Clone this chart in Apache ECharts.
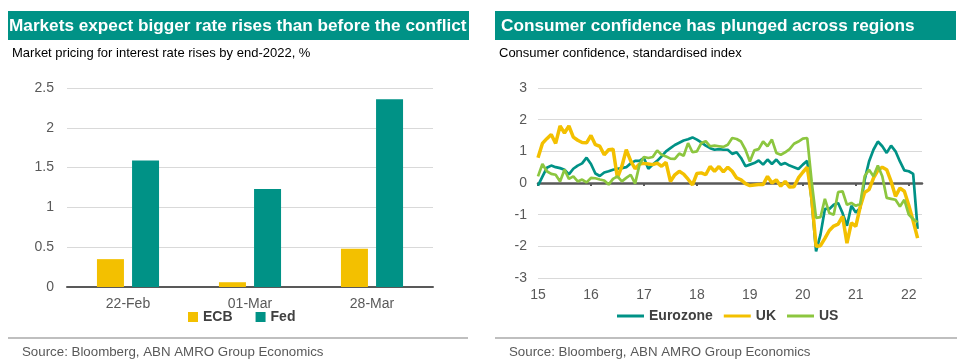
<!DOCTYPE html>
<html>
<head>
<meta charset="utf-8">
<script src="https://cdn.jsdelivr.net/npm/echarts@6/dist/echarts.min.js"></script>
<style>
html,body{margin:0;padding:0;background:#fff;}
#c{width:969px;height:363px;}
</style>
</head>
<body>
<div id="c"></div>
<script>
// ---- Left chart data ----
const barCategories = ['22-Feb', '01-Mar', '28-Mar'];
const ecbValues = [0.35, 0.06, 0.48];
const fedValues = [1.59, 1.23, 2.36];

// ---- Right chart data (monthly, Jan 2015 - Mar 2022) ----
const eurozone = [
  -0.08, 0.2, 0.48, 0.55, 0.5, 0.47, 0.42, 0.27, 0.45, 0.55, 0.62, 0.8,
  0.6, 0.3, 0.22, 0.33, 0.37, 0.42, 0.45, 0.47, 0.5, 0.62, 0.7, 0.7,
  0.79, 0.45, 0.58, 0.7, 0.84, 1.0, 1.1, 1.2, 1.27, 1.34, 1.38, 1.44,
  1.37, 1.28, 1.18, 1.1, 1.05, 1.07, 1.05, 1.05, 0.92, 0.97, 0.79, 0.53,
  0.58, 0.63, 0.71, 0.58, 0.74, 0.6, 0.74, 0.58, 0.63, 0.55, 0.5, 0.44,
  0.58, 0.7, -0.56, -2.16, -1.63, -0.82, -0.82, -0.69, -0.63, -0.95, -1.35, -0.72,
  -0.93, -0.79, 0.1, 0.68, 1.05, 1.31, 1.16, 0.95, 1.18, 1.0, 0.68, 0.4,
  0.37, 0.29, -1.45
];
const uk = [
  0.8, 1.25, 1.4, 1.53, 1.25, 1.8, 1.58, 1.8, 1.45, 1.35, 1.28, 1.27,
  1.5, 1.21, 1.16, 0.89, 1.05, 1.07, 0.16, 0.53, 1.05, 0.7, 0.45, 0.6,
  0.62, 0.6, 0.58, 0.63, 0.53, 0.65, 0.05, 0.26, 0.37, 0.28, 0.12, -0.06,
  0.3, 0.32, 0.26, 0.52, 0.37, 0.52, 0.35, 0.5, 0.37, 0.16, 0.1, -0.02,
  -0.08, -0.06, -0.05, -0.05, 0.21, 0.0, 0.1, -0.1, 0.05, -0.13, -0.12, 0.16,
  0.34, 0.5, -0.45, -2.0, -1.98, -1.75, -1.5, -1.36, -1.3, -1.05, -1.9, -1.26,
  -1.37, -0.75, -0.3, -0.21, 0.15, 0.4, 0.5, 0.42, 0.05, -0.42, -0.16, -0.26,
  -0.7, -1.2, -1.74
];
const us = [
  0.21, 0.6, 0.37, 0.29, 0.26, 0.05, 0.42, 0.13, 0.21, 0.05, 0.11, 0.02,
  0.16, 0.15, 0.11, 0.08, -0.05, 0.13, 0.21, 0.05, 0.16, 0.26, -0.02, 0.58,
  0.82, 0.79, 0.82, 1.03, 0.89, 0.84, 0.77, 0.76, 0.93, 0.86, 1.26, 0.97,
  1.0, 1.26, 1.32, 1.16, 1.18, 1.16, 1.14, 1.21, 1.42, 1.39, 1.31, 1.05,
  0.68, 1.03, 1.07, 1.31, 1.16, 1.37, 0.95, 0.89, 0.97, 1.07, 1.24, 1.31,
  1.4, 1.42, 0.05, -1.1, -1.08, -0.5, -0.95, -1.0, -0.29, -0.26, -0.69, -0.63,
  -0.72, -0.66, 0.21, 0.42, 0.21, 0.55, 0.21, -0.47, -0.5, -0.53, -0.74, -0.53,
  -1.0, -1.14, -1.24
];
// month categories Jan 2015 .. Apr 2022
const months = [];
for (let y = 2015; y <= 2022; y++) {
  for (let m = 1; m <= 12; m++) {
    if (y === 2022 && m > 4) break;
    months.push(y + '-' + String(m).padStart(2, '0'));
  }
}

const FONT = '"Liberation Sans", Arial, Helvetica, sans-serif';
const TEAL = '#009286';
const YELLOW = '#F3C000';
const LGREEN = '#8CC63F';
const AXIS = '#595959';
const GRID = '#D9D9D9';
const isJan = (i, v) => /-01$/.test(v);

const chart = echarts.init(document.getElementById('c'), null, {renderer: 'canvas'});

function txt(text, x, y, size, weight, color) {
  return {
    type: 'text',
    silent: true,
    style: {
      text: text, x: x, y: y,
      fill: color,
      font: weight + ' ' + size + 'px ' + FONT,
      verticalAlign: 'middle', textVerticalAlign: 'middle',
      align: 'left', textAlign: 'left'
    }
  };
}

const option = {
  animation: false,
  backgroundColor: '#ffffff',
  textStyle: {fontFamily: FONT},
  graphic: [
    {type: 'rect', shape: {x: 8, y: 11, width: 461, height: 29}, style: {fill: TEAL}, silent: true},
    {type: 'rect', shape: {x: 495, y: 11, width: 461, height: 29}, style: {fill: TEAL}, silent: true},
    txt('Markets expect bigger rate rises than before the conflict', 9, 26, 17.2, 'bold', '#ffffff'),
    txt('Consumer confidence has plunged across regions', 501, 26, 17.2, 'bold', '#ffffff'),
    txt('Market pricing for interest rate rises by end-2022, %', 12, 53, 13, 'normal', '#000000'),
    txt('Consumer confidence, standardised index', 499, 53, 13, 'normal', '#000000'),
    {type: 'line', shape: {x1: 8, y1: 338, x2: 468, y2: 338}, style: {stroke: '#BFBFBF', lineWidth: 2}, silent: true},
    {type: 'line', shape: {x1: 495, y1: 338, x2: 957, y2: 338}, style: {stroke: '#BFBFBF', lineWidth: 2}, silent: true},
    txt('Source: Bloomberg, ABN AMRO Group Economics', 22, 352, 13.3, 'normal', '#595959'),
    txt('Source: Bloomberg, ABN AMRO Group Economics', 509, 352, 13.3, 'normal', '#595959')
  ],
  legend: [
    {
      data: ['ECB', 'Fed'],
      left: 188, top: 310,
      icon: 'rect', itemWidth: 10, itemHeight: 10, itemGap: 23,
      textStyle: {color: '#404040', fontWeight: 'bold', fontSize: 14, fontFamily: FONT},
      padding: 0
    },
    {
      data: ['Eurozone', 'UK', 'US'],
      left: 617, top: 309,
      icon: 'rect', itemWidth: 27, itemHeight: 3, itemGap: 11,
      textStyle: {color: '#404040', fontWeight: 'bold', fontSize: 14, fontFamily: FONT},
      padding: 0
    }
  ],
  grid: [
    {left: 67, top: 88, width: 366, height: 199, containLabel: false},
    {left: 538, top: 88, width: 384, height: 190, containLabel: false}
  ],
  xAxis: [
    {
      gridIndex: 0, type: 'category', data: barCategories,
      axisLine: {lineStyle: {color: AXIS, width: 2}},
      axisTick: {length: 4, lineStyle: {color: AXIS, width: 2}},
      axisLabel: {color: AXIS, fontSize: 14, margin: 10, fontFamily: FONT}
    },
    {
      gridIndex: 1, type: 'category', data: months, boundaryGap: false, position: 'bottom',
      axisLine: {show: false, onZero: false},
      axisTick: {show: false},
      axisLabel: {interval: isJan, formatter: v => v.slice(2, 4), color: AXIS, fontSize: 14, margin: 10, fontFamily: FONT},
      splitLine: {show: false}
    },
    {
      gridIndex: 1, type: 'category', data: months, boundaryGap: false, position: 'top',
      axisLine: {show: true, onZero: true, lineStyle: {color: AXIS, width: 2.5}},
      axisTick: {show: true, inside: true, length: 3, interval: isJan, lineStyle: {color: AXIS, width: 2}},
      axisLabel: {show: false},
      splitLine: {show: false}
    }
  ],
  yAxis: [
    {
      gridIndex: 0, type: 'value', min: 0, max: 2.5, interval: 0.5,
      axisLine: {show: false}, axisTick: {show: false},
      axisLabel: {color: AXIS, fontSize: 14, margin: 13, fontFamily: FONT},
      splitLine: {lineStyle: {color: GRID, width: 1}}
    },
    {
      gridIndex: 1, type: 'value', min: -3, max: 3, interval: 1,
      axisLine: {show: false}, axisTick: {show: false},
      axisLabel: {color: AXIS, fontSize: 14, margin: 11, fontFamily: FONT},
      splitLine: {lineStyle: {color: GRID, width: 1}}
    }
  ],
  series: [
    {
      name: 'ECB', type: 'bar', xAxisIndex: 0, yAxisIndex: 0, data: ecbValues,
      barWidth: 27, barGap: '30%', itemStyle: {color: YELLOW}
    },
    {
      name: 'Fed', type: 'bar', xAxisIndex: 0, yAxisIndex: 0, data: fedValues,
      barWidth: 27, barGap: '30%', itemStyle: {color: TEAL}
    },
    {
      name: 'Eurozone', type: 'line', xAxisIndex: 1, yAxisIndex: 1, data: eurozone,
      showSymbol: false, symbol: 'none', itemStyle: {color: TEAL},
      lineStyle: {color: TEAL, width: 2.7}
    },
    {
      name: 'UK', type: 'line', xAxisIndex: 1, yAxisIndex: 1, data: uk,
      showSymbol: false, symbol: 'none', itemStyle: {color: YELLOW},
      lineStyle: {color: YELLOW, width: 3.5}
    },
    {
      name: 'US', type: 'line', xAxisIndex: 1, yAxisIndex: 1, data: us,
      showSymbol: false, symbol: 'none', itemStyle: {color: LGREEN},
      lineStyle: {color: LGREEN, width: 2.7}
    }
  ]
};
chart.setOption(option);
</script>
</body>
</html>
